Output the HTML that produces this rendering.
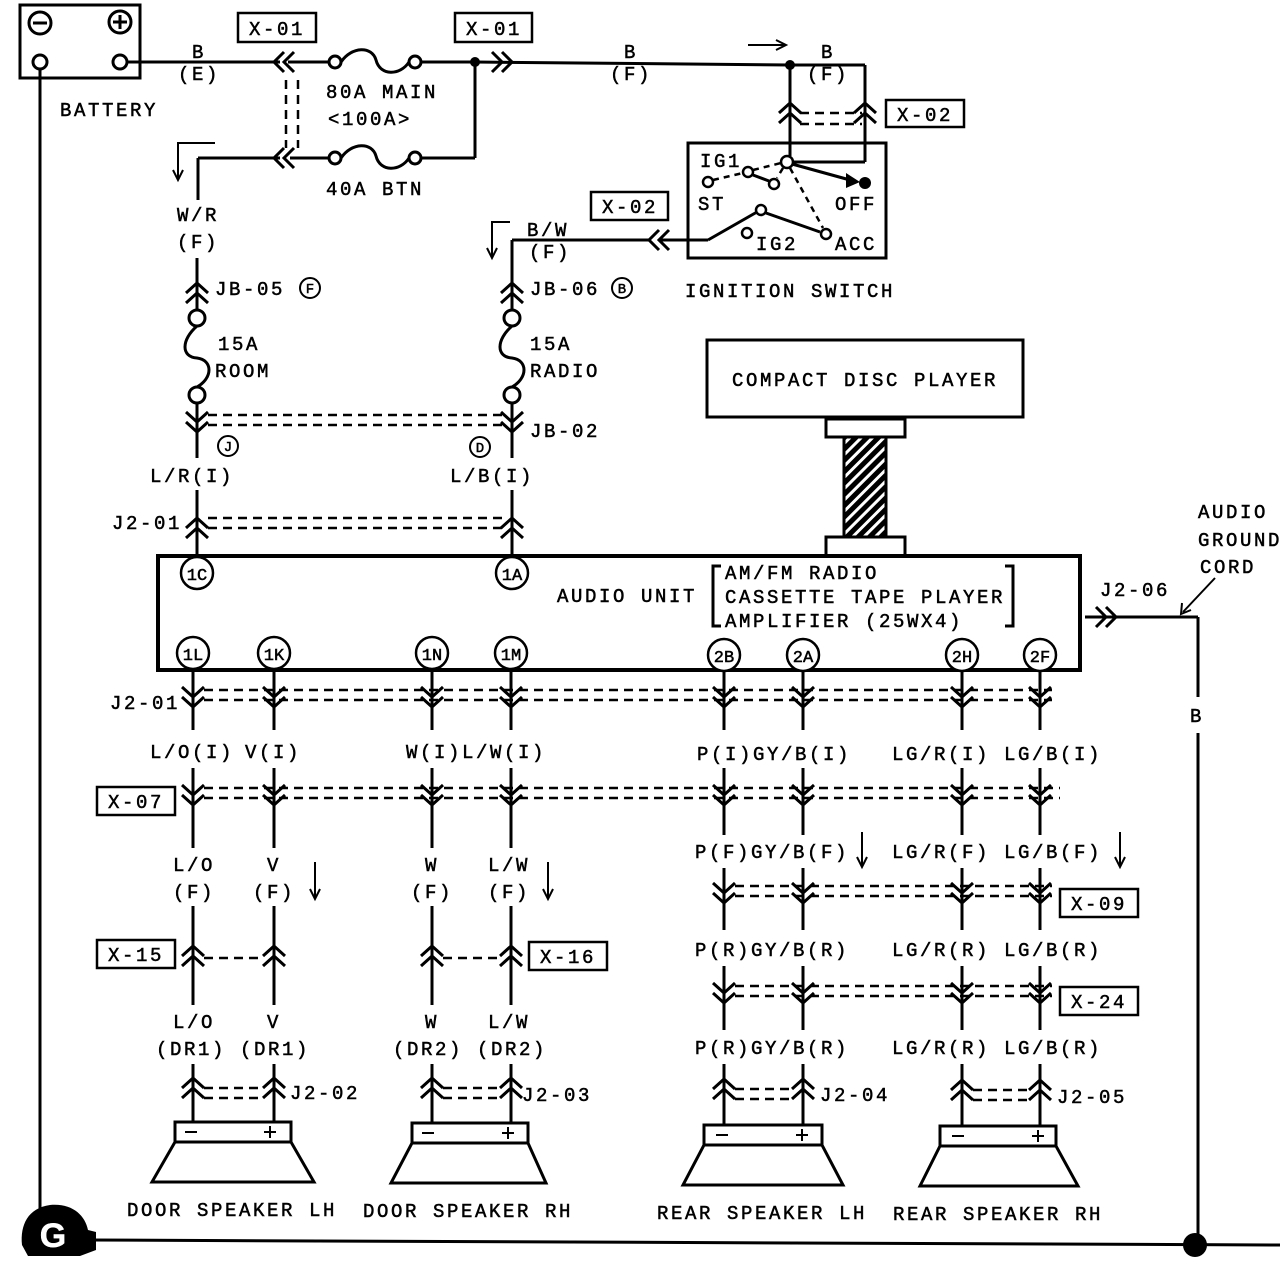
<!DOCTYPE html>
<html><head><meta charset="utf-8"><style>
html,body{margin:0;padding:0;background:#fff}
svg{display:block}
text{font-family:"Liberation Mono",monospace;font-size:19px;letter-spacing:2.6px;fill:#000;stroke:#000;stroke-width:0.5px}
.m{text-anchor:middle}
</style></head><body>
<svg width="1280" height="1266" viewBox="0 0 1280 1266" xmlns="http://www.w3.org/2000/svg">
<defs>
<path id="dn" d="M-11,-13 L0,-3 L11,-13 M-11,-3 L0,7 L11,-3" fill="none" stroke="#000" stroke-width="3"/>
<path id="up" d="M-11,13 L0,3 L11,13 M-11,3 L0,-7 L11,3" fill="none" stroke="#000" stroke-width="3"/>
<path id="lt" d="M11,-10 L1,0 L11,10 M1,-10 L-9,0 L1,10" fill="none" stroke="#000" stroke-width="3"/>
<path id="rt" d="M-11,-10 L-1,0 L-11,10 M-1,-10 L9,0 L-1,10" fill="none" stroke="#000" stroke-width="3"/>
<pattern id="hatch" width="8" height="8" patternUnits="userSpaceOnUse" patternTransform="rotate(45)">
<rect width="8" height="8" fill="#fff"/><rect width="5" height="8" fill="#000"/></pattern>
</defs>
<g fill="none" stroke="#000" stroke-width="3">
<rect x="20" y="5" width="120" height="73"/>
<circle cx="40" cy="23" r="11"/><line x1="33" y1="23" x2="47" y2="23"/>
<circle cx="120" cy="22" r="11"/><line x1="113" y1="22" x2="127" y2="22"/><line x1="120" y1="15" x2="120" y2="29"/>
<circle cx="40" cy="62" r="7" fill="#fff"/><circle cx="120" cy="62" r="7" fill="#fff"/>
<line x1="40" y1="69" x2="40" y2="1215"/>
<line x1="90" y1="1240" x2="1280" y2="1245"/>
<line x1="1198" y1="617" x2="1198" y2="697"/>
<line x1="1198" y1="733" x2="1198" y2="1245"/>
<line x1="1085" y1="617" x2="1198" y2="617"/>
<line x1="127" y1="62" x2="280" y2="62"/>
<line x1="288" y1="62" x2="329" y2="62"/>
<circle cx="335" cy="62" r="6"/><circle cx="415" cy="62" r="6"/>
<path d="M341,62 C352,46 372,46 376,60 C380,76 400,76 409,62"/>
<line x1="421" y1="62" x2="475" y2="62"/>
<line x1="475" y1="62" x2="790" y2="65"/>
<line x1="790" y1="65" x2="865" y2="65"/>
<line x1="865" y1="65" x2="865" y2="162"/>
<line x1="865" y1="162" x2="793" y2="162"/>
<line x1="790" y1="65" x2="790" y2="156"/>
<line x1="475" y1="62" x2="475" y2="158"/>
<line x1="475" y1="158" x2="421" y2="158"/>
<circle cx="335" cy="158" r="6"/><circle cx="415" cy="158" r="6"/>
<path d="M341,158 C352,142 372,142 376,156 C380,172 400,172 409,158"/>
<line x1="329" y1="158" x2="290" y2="158"/>
<line x1="280" y1="158" x2="198" y2="158"/>
<line x1="198" y1="158" x2="198" y2="200"/>
</g>
<circle cx="475" cy="62" r="5"/><circle cx="790" cy="65" r="5"/>
<use href="#lt" x="283" y="62"/><use href="#lt" x="283" y="158"/>
<use href="#rt" x="503" y="62"/>
<g stroke="#000" stroke-width="2.5" stroke-dasharray="9,6">
<line x1="286" y1="80" x2="286" y2="148"/><line x1="298" y1="80" x2="298" y2="148"/>
<line x1="800" y1="113" x2="862" y2="113"/><line x1="800" y1="124" x2="862" y2="124"/>
</g>
<use href="#up" x="790" y="110"/><use href="#up" x="865" y="110"/>
<g fill="none" stroke="#000" stroke-width="2.5">
<rect x="238" y="13" width="78" height="29"/><rect x="455" y="13" width="77" height="29"/>
<rect x="886" y="100" width="78" height="27"/><rect x="591" y="192" width="77" height="28"/>
</g>
<text x="277" y="35" class="m">X-01</text><text x="494" y="35" class="m">X-01</text>
<text x="925" y="121" class="m">X-02</text><text x="630" y="213" class="m">X-02</text>
<text x="199" y="58" class="m">B</text><text x="199" y="80" class="m">(E)</text>
<text x="382" y="98" class="m">80A MAIN</text><text x="370" y="125" class="m">&lt;100A&gt;</text>
<text x="375" y="195" class="m">40A BTN</text>
<text x="631" y="58" class="m">B</text><text x="631" y="80" class="m">(F)</text>
<text x="828" y="58" class="m">B</text><text x="828" y="80" class="m">(F)</text>
<text x="60" y="116">BATTERY</text>
<g stroke="#000" stroke-width="2" fill="none">
<line x1="748" y1="45" x2="785" y2="45"/><path d="M776,40 L786,45 L776,50"/>
<path d="M215,143 L178,143 L178,178"/><path d="M173,170 L178,180 L183,170"/>
<path d="M510,222 L492,222 L492,256"/><path d="M487,248 L492,258 L497,248"/>
</g>
<g fill="none" stroke="#000" stroke-width="3">
<rect x="688" y="143" width="198" height="115"/>
<line x1="515" y1="240" x2="650" y2="240"/>
<line x1="660" y1="240" x2="708" y2="240"/>
<line x1="708" y1="240" x2="757" y2="212"/>
<line x1="766" y1="213" x2="820" y2="232"/>
<line x1="753" y1="175" x2="769" y2="181"/>
<line x1="792" y1="164" x2="850" y2="180"/>
</g>
<use href="#lt" x="658" y="240"/>
<g fill="#fff" stroke="#000" stroke-width="2.5">
<circle cx="787" cy="162" r="6"/><circle cx="708" cy="182" r="5"/><circle cx="748" cy="172" r="5"/>
<circle cx="774" cy="184" r="5"/><circle cx="761" cy="210" r="5"/><circle cx="747" cy="233" r="5"/><circle cx="826" cy="234" r="5"/>
</g>
<g stroke="#000" stroke-width="2.5" stroke-dasharray="6,5">
<line x1="713" y1="180" x2="743" y2="173"/><line x1="753" y1="170" x2="781" y2="163"/>
<line x1="790" y1="168" x2="823" y2="228"/><line x1="783" y1="168" x2="777" y2="178"/>
</g>
<path d="M846,173 L860,182 L846,188 Z"/><circle cx="865" cy="183" r="6"/>
<text x="700" y="167">IG1</text><text x="698" y="210">ST</text><text x="835" y="210">OFF</text>
<text x="756" y="250">IG2</text><text x="835" y="250">ACC</text>
<text x="685" y="297">IGNITION SWITCH</text>
<g fill="none" stroke="#000" stroke-width="3">
<line x1="197" y1="258" x2="197" y2="310"/>
<circle cx="197" cy="318" r="8"/>
<path d="M197,326 C181,340 181,357 197,358 C213,360 213,378 197,387"/>
<circle cx="197" cy="395" r="8"/>
<line x1="197" y1="403" x2="197" y2="458"/>
<line x1="197" y1="490" x2="197" y2="557"/>
<line x1="512" y1="240" x2="512" y2="310"/>
<circle cx="512" cy="318" r="8"/>
<path d="M512,326 C496,340 496,357 512,358 C528,360 528,378 512,387"/>
<circle cx="512" cy="395" r="8"/>
<line x1="512" y1="403" x2="512" y2="458"/>
<line x1="512" y1="490" x2="512" y2="557"/>
<line x1="512" y1="240" x2="530" y2="240"/>
</g>
<use href="#up" x="197" y="290"/><use href="#up" x="512" y="290"/>
<use href="#dn" x="197" y="425"/><use href="#dn" x="512" y="425"/>
<use href="#up" x="197" y="525"/><use href="#up" x="512" y="525"/>
<g stroke="#000" stroke-width="2.5" stroke-dasharray="9,6">
<line x1="208" y1="415" x2="502" y2="415"/><line x1="208" y1="425" x2="502" y2="425"/>
<line x1="208" y1="518" x2="502" y2="518"/><line x1="208" y1="528" x2="502" y2="528"/>
</g>
<text x="198" y="221" class="m">W/R</text><text x="198" y="248" class="m">(F)</text>
<text x="215" y="295">JB-05</text>
<text x="548" y="236" class="m">B/W</text><text x="550" y="258" class="m">(F)</text>
<text x="530" y="295">JB-06</text>
<g fill="none" stroke="#000" stroke-width="2"><circle cx="310" cy="288" r="10"/><circle cx="622" cy="288" r="10"/><circle cx="228" cy="446" r="10"/><circle cx="480" cy="447" r="10"/></g>
<text x="310" y="293" class="m" style="font-size:14px;letter-spacing:0">F</text><text x="622" y="293" class="m" style="font-size:14px;letter-spacing:0">B</text><text x="228" y="451" class="m" style="font-size:14px;letter-spacing:0">J</text><text x="480" y="452" class="m" style="font-size:14px;letter-spacing:0">D</text>
<text x="218" y="350">15A</text><text x="215" y="377">ROOM</text>
<text x="530" y="350">15A</text><text x="530" y="377">RADIO</text>
<text x="530" y="437">JB-02</text>
<text x="192" y="482" class="m">L/R(I)</text><text x="492" y="482" class="m">L/B(I)</text>
<text x="112" y="529">J2-01</text>
<g fill="none" stroke="#000" stroke-width="3">
<rect x="707" y="340" width="316" height="77"/>
<rect x="826" y="419" width="79" height="18"/>
<rect x="844" y="437" width="42" height="100" fill="url(#hatch)"/>
<rect x="826" y="537" width="79" height="19"/>
<rect x="158" y="556" width="922" height="114" stroke-width="4"/>
<path d="M721,566 L713,566 L713,626 L721,626"/><path d="M1005,566 L1013,566 L1013,626 L1005,626"/>
</g>
<text x="865" y="386" class="m">COMPACT DISC PLAYER</text>
<text x="557" y="602">AUDIO UNIT</text>
<text x="725" y="579">AM/FM RADIO</text>
<text x="725" y="603">CASSETTE TAPE PLAYER</text>
<text x="725" y="627">AMPLIFIER (25WX4)</text>
<use href="#rt" x="1107" y="617"/>
<text x="1100" y="596">J2-06</text>
<text x="1198" y="518">AUDIO</text><text x="1198" y="546">GROUND</text><text x="1200" y="573">CORD</text>
<g stroke="#000" stroke-width="2" fill="none"><line x1="1215" y1="578" x2="1183" y2="612"/><path d="M1182,603 L1181,614 L1191,610"/></g>
<text x="1197" y="722" class="m">B</text>
<g fill="#fff" stroke="#000" stroke-width="2.5">
<circle cx="197" cy="573" r="16"/><circle cx="512" cy="573" r="16"/>
<circle cx="193" cy="653" r="16"/><circle cx="274" cy="653" r="16"/><circle cx="432" cy="653" r="16"/><circle cx="511" cy="653" r="16"/>
<circle cx="724" cy="655" r="16"/><circle cx="803" cy="655" r="16"/><circle cx="962" cy="655" r="16"/><circle cx="1040" cy="655" r="16"/>
</g>
<text x="197" y="580" class="m" style="font-size:17px;letter-spacing:0">1C</text><text x="512" y="580" class="m" style="font-size:17px;letter-spacing:0">1A</text>
<text x="193" y="660" class="m" style="font-size:17px;letter-spacing:0">1L</text><text x="274" y="660" class="m" style="font-size:17px;letter-spacing:0">1K</text>
<text x="432" y="660" class="m" style="font-size:17px;letter-spacing:0">1N</text><text x="511" y="660" class="m" style="font-size:17px;letter-spacing:0">1M</text>
<text x="724" y="662" class="m" style="font-size:17px;letter-spacing:0">2B</text><text x="803" y="662" class="m" style="font-size:17px;letter-spacing:0">2A</text>
<text x="962" y="662" class="m" style="font-size:17px;letter-spacing:0">2H</text><text x="1040" y="662" class="m" style="font-size:17px;letter-spacing:0">2F</text>
<g stroke="#000" stroke-width="3">
<line x1="193" y1="670" x2="193" y2="730"/><line x1="274" y1="670" x2="274" y2="730"/>
<line x1="432" y1="670" x2="432" y2="730"/><line x1="511" y1="670" x2="511" y2="730"/>
<line x1="724" y1="671" x2="724" y2="730"/><line x1="803" y1="671" x2="803" y2="730"/>
<line x1="962" y1="671" x2="962" y2="730"/><line x1="1040" y1="671" x2="1040" y2="730"/>
<line x1="193" y1="768" x2="193" y2="848"/><line x1="274" y1="768" x2="274" y2="848"/>
<line x1="432" y1="768" x2="432" y2="848"/><line x1="511" y1="768" x2="511" y2="848"/>
<line x1="724" y1="768" x2="724" y2="835"/><line x1="803" y1="768" x2="803" y2="835"/>
<line x1="962" y1="768" x2="962" y2="835"/><line x1="1040" y1="768" x2="1040" y2="835"/>
<line x1="193" y1="906" x2="193" y2="1005"/><line x1="274" y1="906" x2="274" y2="1005"/>
<line x1="432" y1="906" x2="432" y2="1005"/><line x1="511" y1="906" x2="511" y2="1005"/>
<line x1="724" y1="868" x2="724" y2="930"/><line x1="803" y1="868" x2="803" y2="930"/>
<line x1="962" y1="868" x2="962" y2="930"/><line x1="1040" y1="868" x2="1040" y2="930"/>
<line x1="724" y1="966" x2="724" y2="1030"/><line x1="803" y1="966" x2="803" y2="1030"/>
<line x1="962" y1="966" x2="962" y2="1030"/><line x1="1040" y1="966" x2="1040" y2="1030"/>
<line x1="193" y1="1064" x2="193" y2="1122"/><line x1="274" y1="1064" x2="274" y2="1122"/>
<line x1="432" y1="1064" x2="432" y2="1122"/><line x1="511" y1="1064" x2="511" y2="1122"/>
<line x1="724" y1="1064" x2="724" y2="1125"/><line x1="803" y1="1064" x2="803" y2="1125"/>
<line x1="962" y1="1064" x2="962" y2="1126"/><line x1="1040" y1="1064" x2="1040" y2="1126"/>
</g>
<g>
<use href="#dn" x="193" y="700"/><use href="#dn" x="274" y="700"/><use href="#dn" x="432" y="700"/><use href="#dn" x="511" y="700"/>
<use href="#dn" x="724" y="700"/><use href="#dn" x="803" y="700"/><use href="#dn" x="962" y="700"/><use href="#dn" x="1040" y="700"/>
<use href="#dn" x="193" y="798"/><use href="#dn" x="274" y="798"/><use href="#dn" x="432" y="798"/><use href="#dn" x="511" y="798"/>
<use href="#dn" x="724" y="798"/><use href="#dn" x="803" y="798"/><use href="#dn" x="962" y="798"/><use href="#dn" x="1040" y="798"/>
<use href="#up" x="193" y="953"/><use href="#up" x="274" y="953"/><use href="#up" x="432" y="953"/><use href="#up" x="511" y="953"/>
<use href="#dn" x="724" y="896"/><use href="#dn" x="803" y="896"/><use href="#dn" x="962" y="896"/><use href="#dn" x="1040" y="896"/>
<use href="#dn" x="724" y="996"/><use href="#dn" x="803" y="996"/><use href="#dn" x="962" y="996"/><use href="#dn" x="1040" y="996"/>
<use href="#up" x="193" y="1085"/><use href="#up" x="274" y="1085"/><use href="#up" x="432" y="1085"/><use href="#up" x="511" y="1085"/>
<use href="#up" x="724" y="1086"/><use href="#up" x="803" y="1086"/><use href="#up" x="962" y="1087"/><use href="#up" x="1040" y="1087"/>
</g>
<g stroke="#000" stroke-width="2.5" stroke-dasharray="9,6">
<line x1="204" y1="690" x2="1052" y2="690"/><line x1="204" y1="700" x2="1052" y2="700"/>
<line x1="204" y1="788" x2="1060" y2="788"/><line x1="204" y1="798" x2="1060" y2="798"/>
<line x1="204" y1="958" x2="263" y2="958"/>
<line x1="443" y1="958" x2="500" y2="958"/>
<line x1="735" y1="886" x2="1052" y2="886"/><line x1="735" y1="896" x2="1052" y2="896"/>
<line x1="735" y1="986" x2="1052" y2="986"/><line x1="735" y1="996" x2="1052" y2="996"/>
<line x1="204" y1="1088" x2="263" y2="1088"/><line x1="204" y1="1098" x2="263" y2="1098"/>
<line x1="443" y1="1088" x2="500" y2="1088"/><line x1="443" y1="1098" x2="500" y2="1098"/>
<line x1="735" y1="1089" x2="792" y2="1089"/><line x1="735" y1="1099" x2="792" y2="1099"/>
<line x1="973" y1="1090" x2="1029" y2="1090"/><line x1="973" y1="1100" x2="1029" y2="1100"/>
</g>
<text x="110" y="709">J2-01</text>
<text x="192" y="758" class="m">L/O(I)</text><text x="273" y="758" class="m">V(I)</text>
<text x="476" y="758" class="m">W(I)L/W(I)</text><text x="774" y="760" class="m">P(I)GY/B(I)</text>
<text x="997" y="760" class="m">LG/R(I) LG/B(I)</text>
<g fill="none" stroke="#000" stroke-width="2.5">
<rect x="97" y="787" width="78" height="28"/><rect x="97" y="940" width="78" height="28"/>
<rect x="529" y="942" width="78" height="28"/><rect x="1060" y="889" width="78" height="28"/><rect x="1060" y="987" width="78" height="28"/>
</g>
<text x="136" y="808" class="m">X-07</text><text x="136" y="961" class="m">X-15</text>
<text x="568" y="963" class="m">X-16</text><text x="1099" y="910" class="m">X-09</text><text x="1099" y="1008" class="m">X-24</text>
<text x="194" y="871" class="m">L/O</text><text x="274" y="871" class="m">V</text><text x="432" y="871" class="m">W</text><text x="509" y="871" class="m">L/W</text>
<text x="194" y="898" class="m">(F)</text><text x="274" y="898" class="m">(F)</text><text x="432" y="898" class="m">(F)</text><text x="509" y="898" class="m">(F)</text>
<text x="772" y="858" class="m">P(F)GY/B(F)</text><text x="997" y="858" class="m">LG/R(F) LG/B(F)</text>
<text x="772" y="956" class="m">P(R)GY/B(R)</text><text x="997" y="956" class="m">LG/R(R) LG/B(R)</text>
<text x="194" y="1028" class="m">L/O</text><text x="274" y="1028" class="m">V</text><text x="432" y="1028" class="m">W</text><text x="509" y="1028" class="m">L/W</text>
<text x="233" y="1055" class="m">(DR1) (DR1)</text><text x="470" y="1055" class="m">(DR2) (DR2)</text>
<text x="772" y="1054" class="m">P(R)GY/B(R)</text><text x="997" y="1054" class="m">LG/R(R) LG/B(R)</text>
<text x="290" y="1099">J2-02</text><text x="522" y="1101">J2-03</text><text x="820" y="1101">J2-04</text><text x="1057" y="1103">J2-05</text>
<g stroke="#000" stroke-width="2" fill="none">
<line x1="315" y1="862" x2="315" y2="898"/><path d="M310,889 L315,899 L320,889"/>
<line x1="548" y1="862" x2="548" y2="898"/><path d="M543,889 L548,899 L553,889"/>
<line x1="862" y1="832" x2="862" y2="866"/><path d="M857,857 L862,867 L867,857"/>
<line x1="1120" y1="832" x2="1120" y2="866"/><path d="M1115,857 L1120,867 L1125,857"/>
</g>
<g fill="none" stroke="#000" stroke-width="3">
<rect x="175" y="1122" width="116" height="20"/><path d="M175,1142 L291,1142 L314,1182 L152,1182 Z"/>
<rect x="412" y="1123" width="116" height="20"/><path d="M412,1143 L528,1143 L546,1183 L391,1183 Z"/>
<rect x="704" y="1125" width="118" height="20"/><path d="M704,1145 L822,1145 L843,1185 L683,1185 Z"/>
<rect x="940" y="1126" width="116" height="20"/><path d="M940,1146 L1056,1146 L1078,1186 L920,1186 Z"/>
</g>
<g stroke="#000" stroke-width="2">
<line x1="185" y1="1132" x2="197" y2="1132"/><line x1="264" y1="1132" x2="276" y2="1132"/><line x1="270" y1="1126" x2="270" y2="1138"/>
<line x1="422" y1="1133" x2="434" y2="1133"/><line x1="502" y1="1133" x2="514" y2="1133"/><line x1="508" y1="1127" x2="508" y2="1139"/>
<line x1="716" y1="1135" x2="728" y2="1135"/><line x1="796" y1="1135" x2="808" y2="1135"/><line x1="802" y1="1129" x2="802" y2="1141"/>
<line x1="952" y1="1136" x2="964" y2="1136"/><line x1="1032" y1="1136" x2="1044" y2="1136"/><line x1="1038" y1="1130" x2="1038" y2="1142"/>
</g>
<text x="232" y="1216" class="m">DOOR SPEAKER LH</text><text x="468" y="1217" class="m">DOOR SPEAKER RH</text>
<text x="762" y="1219" class="m">REAR SPEAKER LH</text><text x="998" y="1220" class="m">REAR SPEAKER RH</text>
<path d="M22,1245 C20,1225 28,1208 50,1205 C72,1203 85,1215 88,1230 L96,1232 L96,1250 L80,1256 L28,1256 Z" fill="#000"/>
<text x="53" y="1247" class="m" style="fill:#fff;stroke:#fff;font-family:'Liberation Sans',sans-serif;font-size:34px;font-weight:bold;letter-spacing:0">G</text>
<circle cx="1195" cy="1245" r="12" fill="#000"/>
</svg>
</body></html>
